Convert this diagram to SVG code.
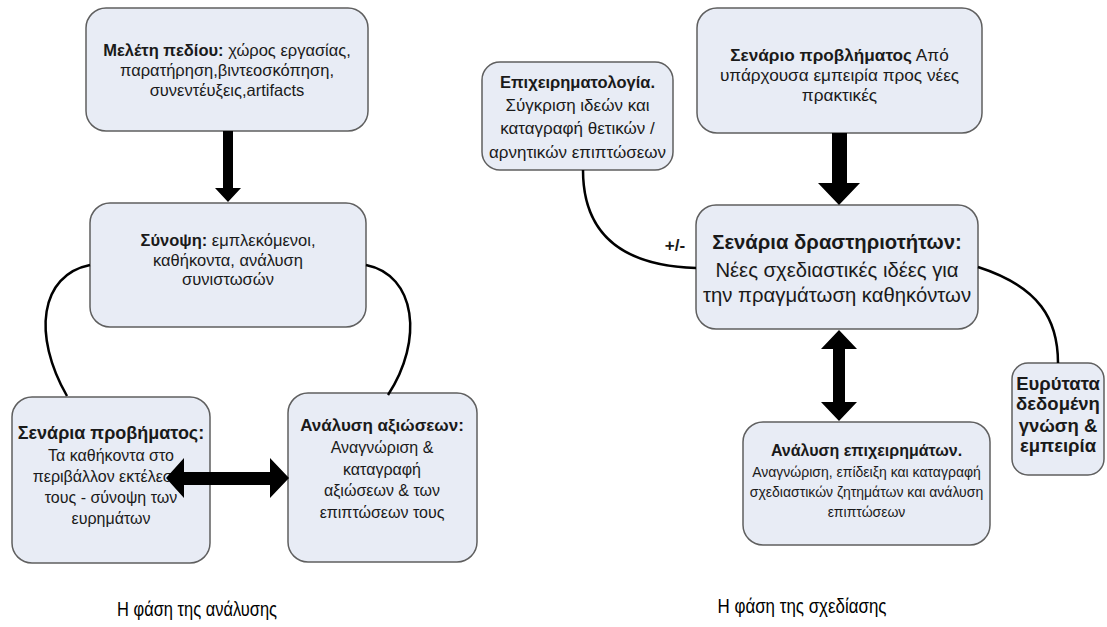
<svg xmlns="http://www.w3.org/2000/svg" width="1107" height="627" viewBox="0 0 1107 627">
<style>
.box{fill:#e8ecf5;stroke:#5f5f5f;stroke-width:1.5}
text{font-family:"Liberation Sans",Arial,sans-serif;fill:#1a1a1a;text-anchor:middle}
.b{font-weight:bold}
.curve{fill:none;stroke:#000;stroke-width:2.5}
.arr{fill:#000}
.title{font-size:20.5px;fill:#000}
</style>
<rect width="1107" height="627" fill="#fff"/>
<g id="n-meleti">
<rect class="box" x="86" y="8" width="282" height="123" rx="20"/>
<text font-size="16.5"><tspan x="227" y="56"><tspan class="b">Μελέτη πεδίου:</tspan> χώρος εργασίας,</tspan><tspan x="227" y="76">παρατήρηση,βιντεοσκόπηση,</tspan><tspan x="227" y="96">συνεντέυξεις,artifacts</tspan></text>
</g>
<g id="n-synopsi">
<rect class="box" x="90" y="203" width="276" height="124" rx="20"/>
<text font-size="16.5"><tspan x="228" y="246"><tspan class="b">Σύνοψη:</tspan> εμπλεκόμενοι,</tspan><tspan x="228" y="266">καθήκοντα, ανάλυση</tspan><tspan x="228" y="285">συνιστωσών</tspan></text>
</g>
<g id="n-senaria-provimatos">
<rect class="box" x="12" y="397" width="198" height="166" rx="20"/>
<text font-size="16"><tspan x="111" y="439" class="b" font-size="18">Σενάρια προβήματος:</tspan><tspan x="111" y="461">Τα καθήκοντα στο</tspan><tspan x="111" y="482">περιβάλλον εκτέλεσης</tspan><tspan x="111" y="503">τους - σύνοψη των</tspan><tspan x="111" y="524">ευρημάτων</tspan></text>
</g>
<g id="n-analysi-axioseon">
<rect class="box" x="288" y="393" width="189" height="169" rx="20"/>
<text font-size="16"><tspan x="382" y="431" class="b" font-size="17">Ανάλυση αξιώσεων:</tspan><tspan x="382" y="453">Αναγνώριση &amp;</tspan><tspan x="382" y="475">καταγραφή</tspan><tspan x="382" y="496">αξιώσεων &amp; των</tspan><tspan x="382" y="518">επιπτώσεων τους</tspan></text>
</g>
<g id="n-epixeirimatologia">
<rect class="box" x="482" y="62" width="191" height="108" rx="18"/>
<text font-size="17"><tspan x="577.5" y="88" class="b" font-size="16.5">Επιχειρηματολογία.</tspan><tspan x="577.5" y="111">Σύγκριση ιδεών και</tspan><tspan x="577.5" y="134">καταγραφή θετικών /</tspan><tspan x="577.5" y="158">αρνητικών επιπτώσεων</tspan></text>
</g>
<g id="n-senario-provlimatos">
<rect class="box" x="697" y="8" width="285" height="125" rx="20"/>
<text font-size="17.2"><tspan x="839.5" y="61"><tspan class="b">Σενάριο προβλήματος</tspan> Από</tspan><tspan x="839.5" y="81">υπάρχουσα εμπειρία προς νέες</tspan><tspan x="839.5" y="101">πρακτικές</tspan></text>
</g>
<g id="n-senaria-drastiriotiton">
<rect class="box" x="696" y="205" width="282" height="124" rx="20"/>
<text font-size="20.3"><tspan x="837" y="249" class="b">Σενάρια δραστηριοτήτων:</tspan><tspan x="837" y="277">Νέες σχεδιαστικές ιδέες για</tspan><tspan x="837" y="302">την πραγμάτωση καθηκόντων</tspan></text>
</g>
<g id="n-analysi-epixeirimaton">
<rect class="box" x="743" y="422" width="247" height="123" rx="20"/>
<text font-size="14"><tspan x="866.5" y="456" class="b" font-size="16">Ανάλυση επιχειρημάτων.</tspan><tspan x="866.5" y="477">Αναγνώριση, επίδειξη και καταγραφή</tspan><tspan x="866.5" y="497">σχεδιαστικών ζητημάτων και ανάλυση</tspan><tspan x="866.5" y="517">επιπτώσεων</tspan></text>
</g>
<g id="n-eyrytata">
<rect class="box" x="1012" y="363" width="92" height="112" rx="16"/>
<text font-size="18.5" class="b"><tspan x="1058" y="390">Ευρύτατα</tspan><tspan x="1058" y="410">δεδομένη</tspan><tspan x="1058" y="432">γνώση &amp;</tspan><tspan x="1058" y="452">εμπειρία</tspan></text>
</g>
<g id="connectors">
<path class="curve" d="M90,265 C40,275 32,335 67,396"/>
<path class="curve" d="M366,265 C416,275 424,340 388,395"/>
<path class="curve" d="M583,170 C583,240 630,266 696,268"/>
<path class="curve" d="M978,267 C1040,287 1058,320 1058,363"/>
<polygon class="arr" points="223,131 233,131 233,188 241,188 228,202 215,188 223,188"/>
<polygon class="arr" points="832,133 847,133 847,183 860,183 839,205 818,183 832,183"/>
<polygon class="arr" points="839,330 857,349 845,349 845,402 857,402 839,421 821,402 833,402 833,349 821,349"/>
<polygon class="arr" points="166,478 184,458 184,472 270,472 270,458 289,478 270,498 270,485 184,485 184,498"/>
<text class="b" font-size="17" x="675" y="251">+/-</text>
</g>
<text class="title" x="197" y="616" textLength="160" lengthAdjust="spacingAndGlyphs">Η φάση της ανάλυσης</text>
<text class="title" x="802" y="613" textLength="169" lengthAdjust="spacingAndGlyphs">Η φάση της σχεδίασης</text>
</svg>
